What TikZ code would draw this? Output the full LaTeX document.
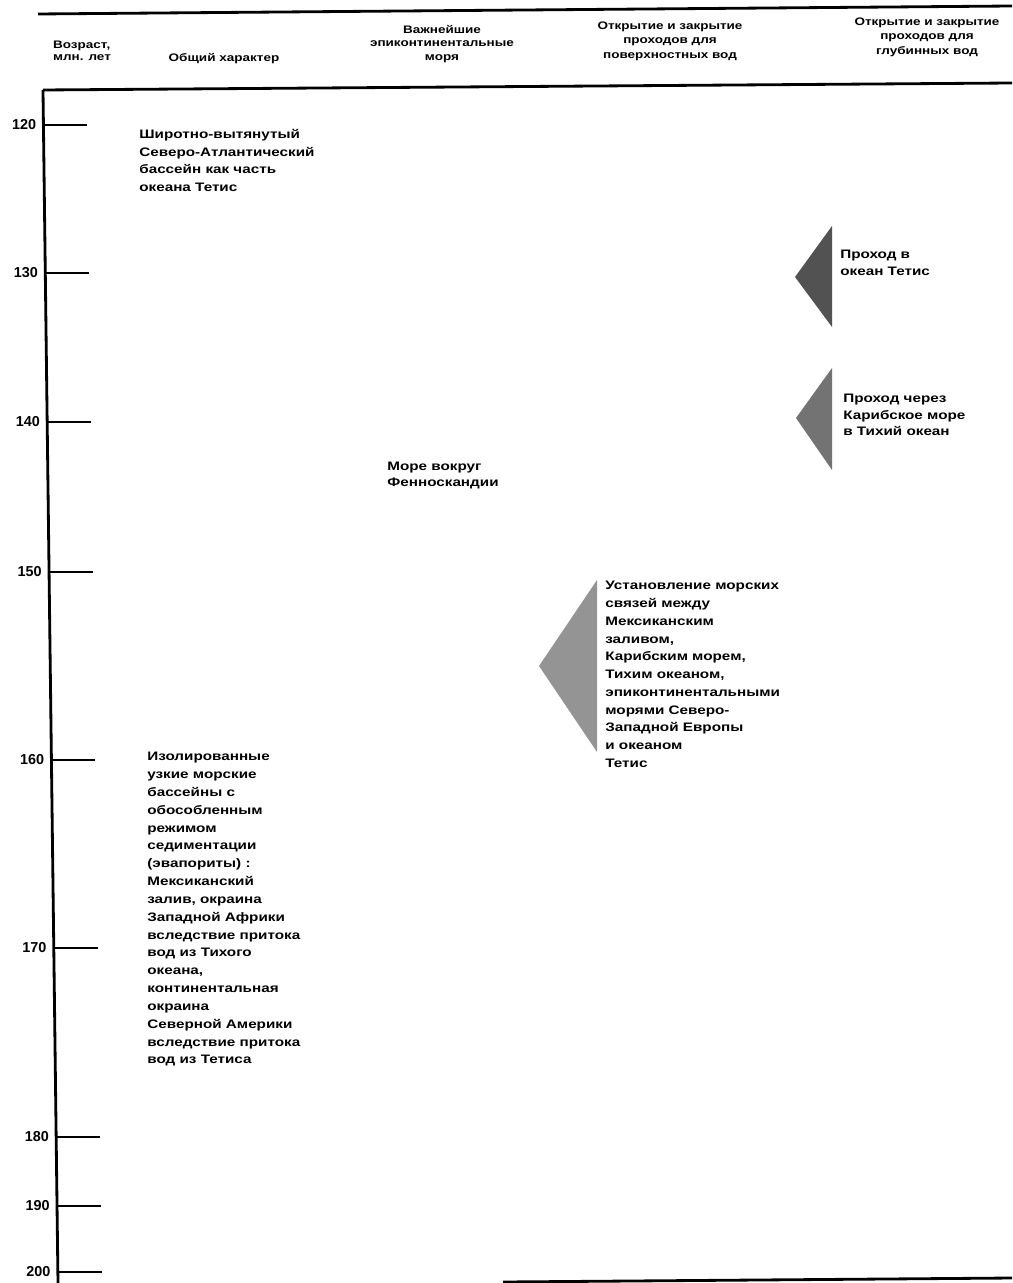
\documentclass[tikz,border=0pt]{standalone}
\usepackage{fontspec}
\setmainfont{Liberation Sans}[FakeStretch=1.24]
\newfontfamily\agefont{Liberation Sans}
\usepackage{tikz}
\usetikzlibrary{positioning}

\begin{document}
\begin{tikzpicture}[x=0.02cm, y=-0.02cm,
	framerule/.style={line width=1.6pt},
	agetick/.style={line width=1.3pt},
	head/.style={font=\bfseries\fontsize{6.2}{#1}\selectfont, align=center, inner sep=0pt},
	body/.style={font=\bfseries\fontsize{7}{#1}\selectfont, align=left, inner sep=0pt, anchor=north west},
	passage/.style={fill=#1, draw=none}]
	\useasboundingbox (0,0) rectangle (1012,1283);
	% frame of the table
	\draw[framerule] (38,14) -- (1012,6);
	\draw[framerule] (43,90) -- (1012,83);
	\draw[framerule] (43,90) -- (58,1283);
	\draw[framerule] (503,1282) -- (1012,1278);
	% age scale
	\foreach \age/\yy in {120/125, 130/273, 140/422, 150/572, 160/760, 170/948, 180/1137, 190/1206, 200/1272} {
		\pgfmathsetmacro{\xx}{43+0.01257*(\yy-90)}
		\draw[agetick] (\xx,\yy) -- ++(44,0);
		\node[anchor=east, inner sep=0pt, font=\agefont\bfseries\fontsize{8.2}{9}\selectfont] (age\age) at (\xx-7,\yy) {\age};
	}
	% column heads
	\node[head=7pt, align=left] (hage) at (82,51) {Возраст,\\млн. лет};
	\node[head=8pt] (hchar) at (224,59) {Общий характер};
	\node[head=7.7pt] (hseas) at (442,44) {Важнейшие\\эпиконтинентальные\\моря};
	\node[head=8.2pt] (hsurf) at (670,41) {Открытие и закрытие\\проходов для\\поверхностных вод};
	\node[head=8.2pt] (hdeep) at (927,37) {Открытие и закрытие\\проходов для\\глубинных вод};
	% passages
	\fill[passage=black!68] (832,226) -- (832,327) -- (795,277) -- cycle;
	\fill[passage=black!55] (832,368) -- (832,470) -- (796,418) -- cycle;
	\fill[passage=black!42] (597,580) -- (597,752) -- (539,666) -- cycle;
	% texts
	\node[body=10pt] (tethys) at (139,129) {Широтно-вытянутый\\Северо-Атлантический\\бассейн как часть\\океана Тетис};
	\node[body=10.15pt] (isolated) at (147,752) {Изолированные\\узкие морские\\бассейны с\\обособленным\\режимом\\седиментации\\(эвапориты) :\\Мексиканский\\залив, окраина\\Западной Африки\\вследствие притока\\вод из Тихого\\океана,\\континентальная\\окраина\\Северной Америки\\вследствие притока\\вод из Тетиса};
	\node[body=9.2pt] (fenno) at (387,462) {Море вокруг\\Фенноскандии};
	\node[body=10.1pt] (links) at (605,581) {Установление морских\\связей между\\Мексиканским\\заливом,\\Карибским морем,\\Тихим океаном,\\эпиконтинентальными\\морями Северо-\\Западной Европы\\и океаном\\Тетис};
	\node[body=9.6pt] (totethys) at (840,250) {Проход в\\океан Тетис};
	\node[body=9.4pt] (topacific) at (843,394) {Проход через\\Карибское море\\в Тихий океан};
\end{tikzpicture}
\end{document}
